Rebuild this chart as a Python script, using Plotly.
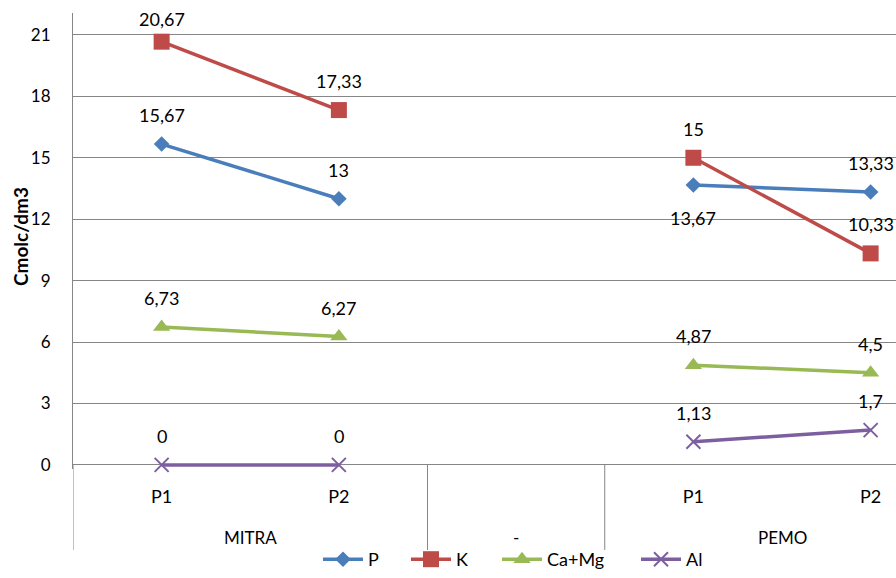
import plotly.graph_objects as go

# Category axis: sampling points grouped by site ("-" is an empty spacer group)
points = ["P1", "P2", "", "P1", "P2"]
groups = ["MITRA", "-", "PEMO"]
group_sizes = [2, 1, 2]

# Nutrient contents (cmolc/dm3); None = no value in the spacer category
series_names = ["P", "K", "Ca+Mg", "Al"]
p_vals = [15.67, 13, None, 13.67, 13.33]
k_vals = [20.67, 17.33, None, 15, 10.33]
camg_vals = [6.73, 6.27, None, 4.87, 4.5]
al_vals = [0, 0, None, 1.13, 1.7]

y_ticks = [0, 3, 6, 9, 12, 15, 18, 21]

colors = ["#4A7EBB", "#BE4B48", "#98B954", "#7D5FA0"]
symbols = ["diamond", "square", "triangle-up", "x-thin"]
sizes = [12, 16, 15, 14]

FONT = "Lato, 'Open Sans', sans-serif"
W, H = 896, 578
Y_MIN, Y_MAX = -0.2, 22.07
PX_PER_UNIT = 452 / 22.07
ZERO_PX = 465                       # pixel row of the value axis' zero
L_M, T_M = 73, 13
B_M = H - ZERO_PX - round(-Y_MIN * PX_PER_UNIT)
plot_h = H - T_M - B_M
zero_paper = (0 - Y_MIN) / (Y_MAX - Y_MIN)
CAT_PX = 177.25                     # width of one category slot


def paper_y(px):
    return (H - B_M - px) / plot_h


def paper_x(px):
    return (px - L_M) / (W - L_M)


fig = go.Figure()
xs = list(range(len(points)))
all_vals = [p_vals, k_vals, camg_vals, al_vals]
legend_ids = ["legend", "legend2", "legend3", "legend4"]
legend_left_px = [318, 406, 497, 636]

for name, vals, col, sym, sz, lid in zip(series_names, all_vals, colors,
                                         symbols, sizes, legend_ids):
    marker = dict(symbol=sym, size=sz, color=col)
    if sym == "x-thin":
        marker["line"] = dict(color=col, width=2)
    fig.add_trace(go.Scatter(
        x=xs, y=vals, name=name, mode="lines+markers",
        line=dict(color=col, width=3.5), marker=marker,
        connectgaps=False, cliponaxis=False, legend=lid,
    ))


def fmt(v):
    s = f"{v:.2f}".rstrip("0").rstrip(".")
    return s.replace(".", ",")


# data labels: above each point, except where noted
below = {("P", 3)}
for name, vals in zip(series_names, all_vals):
    for i, v in enumerate(vals):
        if v is None:
            continue
        shift = -33 if (name, i) in below else (23 if v > 20 else 29)
        fig.add_annotation(
            x=i, y=v, xref="x", yref="y", text=fmt(v), showarrow=False,
            yanchor="middle", yshift=shift,
            font=dict(family=FONT, size=18, color="#000"),
        )

# group labels under the point labels, with separators between groups
start = 0
for g, n in zip(groups, group_sizes):
    fig.add_annotation(
        x=start + (n - 1) / 2, y=paper_y(537), xref="x", yref="paper",
        text=g, showarrow=False, yanchor="middle",
        font=dict(family=FONT, size=17, color="#000"),
    )
    fig.add_shape(
        type="line", xref="x", yref="paper", x0=start - 0.5, x1=start - 0.5,
        y0=zero_paper, y1=paper_y(550), line=dict(color="#868686", width=1),
    )
    start += n

fig.add_annotation(
    x=paper_x(20), y=paper_y(237), xref="paper", yref="paper",
    text="<b>Cmolc/dm3</b>", textangle=-90, showarrow=False,
    xanchor="center", yanchor="middle",
    font=dict(family=FONT, size=19, color="#000"),
)

legend_style = dict(
    orientation="h", xanchor="left", y=paper_y(H), yanchor="bottom",
    font=dict(family=FONT, size=18, color="#000"),
    itemwidth=40, bgcolor="rgba(0,0,0,0)",
)
legends = {lid: dict(legend_style, x=paper_x(px))
           for lid, px in zip(legend_ids, legend_left_px)}

fig.update_layout(
    width=W, height=H,
    margin=dict(l=L_M, r=0, t=T_M, b=B_M),
    paper_bgcolor="white", plot_bgcolor="white",
    font=dict(family=FONT, size=17, color="#000"),
    showlegend=True,
    **legends,
    xaxis=dict(
        range=[-0.5, -0.5 + (W - L_M) / CAT_PX], tickmode="array",
        tickvals=xs, ticktext=points, showgrid=False, zeroline=False,
        showline=False, ticks="", ticklabelstandoff=15, automargin=False,
        tickfont=dict(family=FONT, size=18, color="#000"),
    ),
    yaxis=dict(
        range=[Y_MIN, Y_MAX], tickmode="array", tickvals=y_ticks,
        ticktext=[str(t) for t in y_ticks],
        showgrid=True, gridcolor="#868686", gridwidth=1,
        zeroline=True, zerolinecolor="#868686", zerolinewidth=1,
        showline=True, linecolor="#868686", linewidth=1,
        ticks="", ticklabelstandoff=18, automargin=False,
        tickfont=dict(family=FONT, size=17, color="#000"),
    ),
)

fig.write_html("out.html")
